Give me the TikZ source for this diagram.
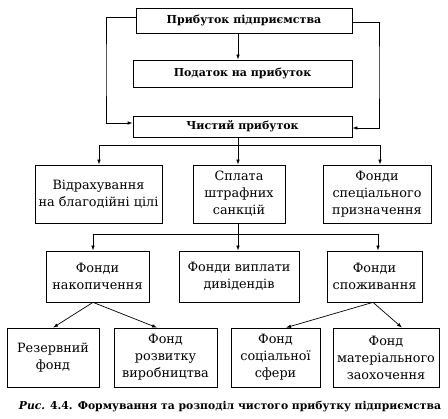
\documentclass[tikz,border=0pt]{standalone}
\usepackage{fontspec}
\setmainfont{DejaVu Serif}
\usetikzlibrary{arrows.meta}
\begin{document}
\begin{tikzpicture}[x=1pt, y=-1pt, line width=0.7pt,
    >={Latex[length=5pt,width=3.5pt]},
    box/.style={draw, align=center, inner sep=2pt,
        font=\fontsize{12.8}{17}\selectfont},
    headbox/.style={box, font=\bfseries\fontsize{11}{14}\selectfont}]

    \useasboundingbox (0,0) rectangle (448,419);

    %% Profit of the enterprise

    % Upper boxes
    \node[headbox, minimum width=216pt, minimum height=25pt] (profit) at (244,20.5) {Прибуток підприємства};
    \node[headbox, minimum width=219pt, minimum height=27pt] (tax) at (242.5,73.5) {Податок на прибуток};
    \node[headbox, minimum width=219pt, minimum height=21pt] (net) at (242.5,126.5) {Чистий прибуток};

    \coordinate (mid) at (238,0);
    \coordinate (lft) at (106,70);
    \coordinate (rgt) at (379,70);
    \draw[->] (profit.south -| mid) -- (tax.north -| mid);
    \draw[->] ([yshift=3.5pt]profit.west) -| (lft) |- ([yshift=3.5pt]net.west);
    \draw[->] ([yshift=-1.5pt]profit.east) -| (rgt) |- ([yshift=-1.5pt]net.east);

    % Second row
    \node[box, minimum width=127pt, minimum height=58pt] (charity) at (98.5,194) {Відрахування\\на благодійні цілі};
    \node[box, minimum width=92pt, minimum height=58pt] (fines) at (239,194) {Сплата\\штрафних\\санкцій};
    \node[box, minimum width=108pt, minimum height=58pt] (special) at (377,194) {Фонди\\спеціального\\призначення};

    \coordinate (jal) at (99,145);
    \coordinate (jar) at (380,145);
    \draw[->] (net.south -| mid) -- (fines.north -| mid);
    \draw (jal) -- (jar);
    \draw[->] (jal) -- (charity.north -| jal);
    \draw[->] (jar) -- (special.north -| jar);

    % Third row
    \node[box, minimum width=103pt, minimum height=51pt] (accum) at (97.5,276.5) {Фонди\\накопичення};
    \node[box, minimum width=120pt, minimum height=51pt] (divid) at (239,276.5) {Фонди виплати\\дивідендів};
    \node[box, minimum width=95pt, minimum height=51pt] (consum) at (374.5,276.5) {Фонди\\споживання};

    \coordinate (jbl) at (93,234);
    \coordinate (jbr) at (378,234);
    \draw[->] (fines.south -| mid) -- (divid.north -| mid);
    \draw (jbl) -- (jbr);
    \draw[->] (jbl) -- (accum.north -| jbl);
    \draw[->] (jbr) -- (consum.north -| jbr);

    % Fourth row
    \node[box, minimum width=92pt, minimum height=59pt] (reserve) at (53,357.5) {Резервний\\фонд};
    \node[box, minimum width=103pt, minimum height=59pt] (develop) at (165.5,357.5) {Фонд\\розвитку\\виробництва};
    \node[box, minimum width=89pt, minimum height=59pt] (social) at (275.5,357.5) {Фонд\\соціальної\\сфери};
    \node[box, minimum width=106pt, minimum height=59pt] (reward) at (386,357.5) {Фонд\\матеріального\\заохочення};

    \draw[->] (accum.south -| jbl) -- (reserve.north);
    \draw[->] (accum.south -| jbl) -- ([xshift=-8.5pt]develop.north);
    \draw[->] ([xshift=-1.5pt]consum.south) -- ([xshift=10.5pt]social.north);
    \draw[->] ([xshift=-1.5pt]consum.south) -- ([xshift=16pt]reward.north);

    % Caption
    \node[font=\fontsize{10.8}{12}\selectfont] (caption) at (230,407)
        {\textbf{\textit{Рис.} 4.4. Формування та розподіл чистого прибутку підприємства}};

\end{tikzpicture}
\end{document}
